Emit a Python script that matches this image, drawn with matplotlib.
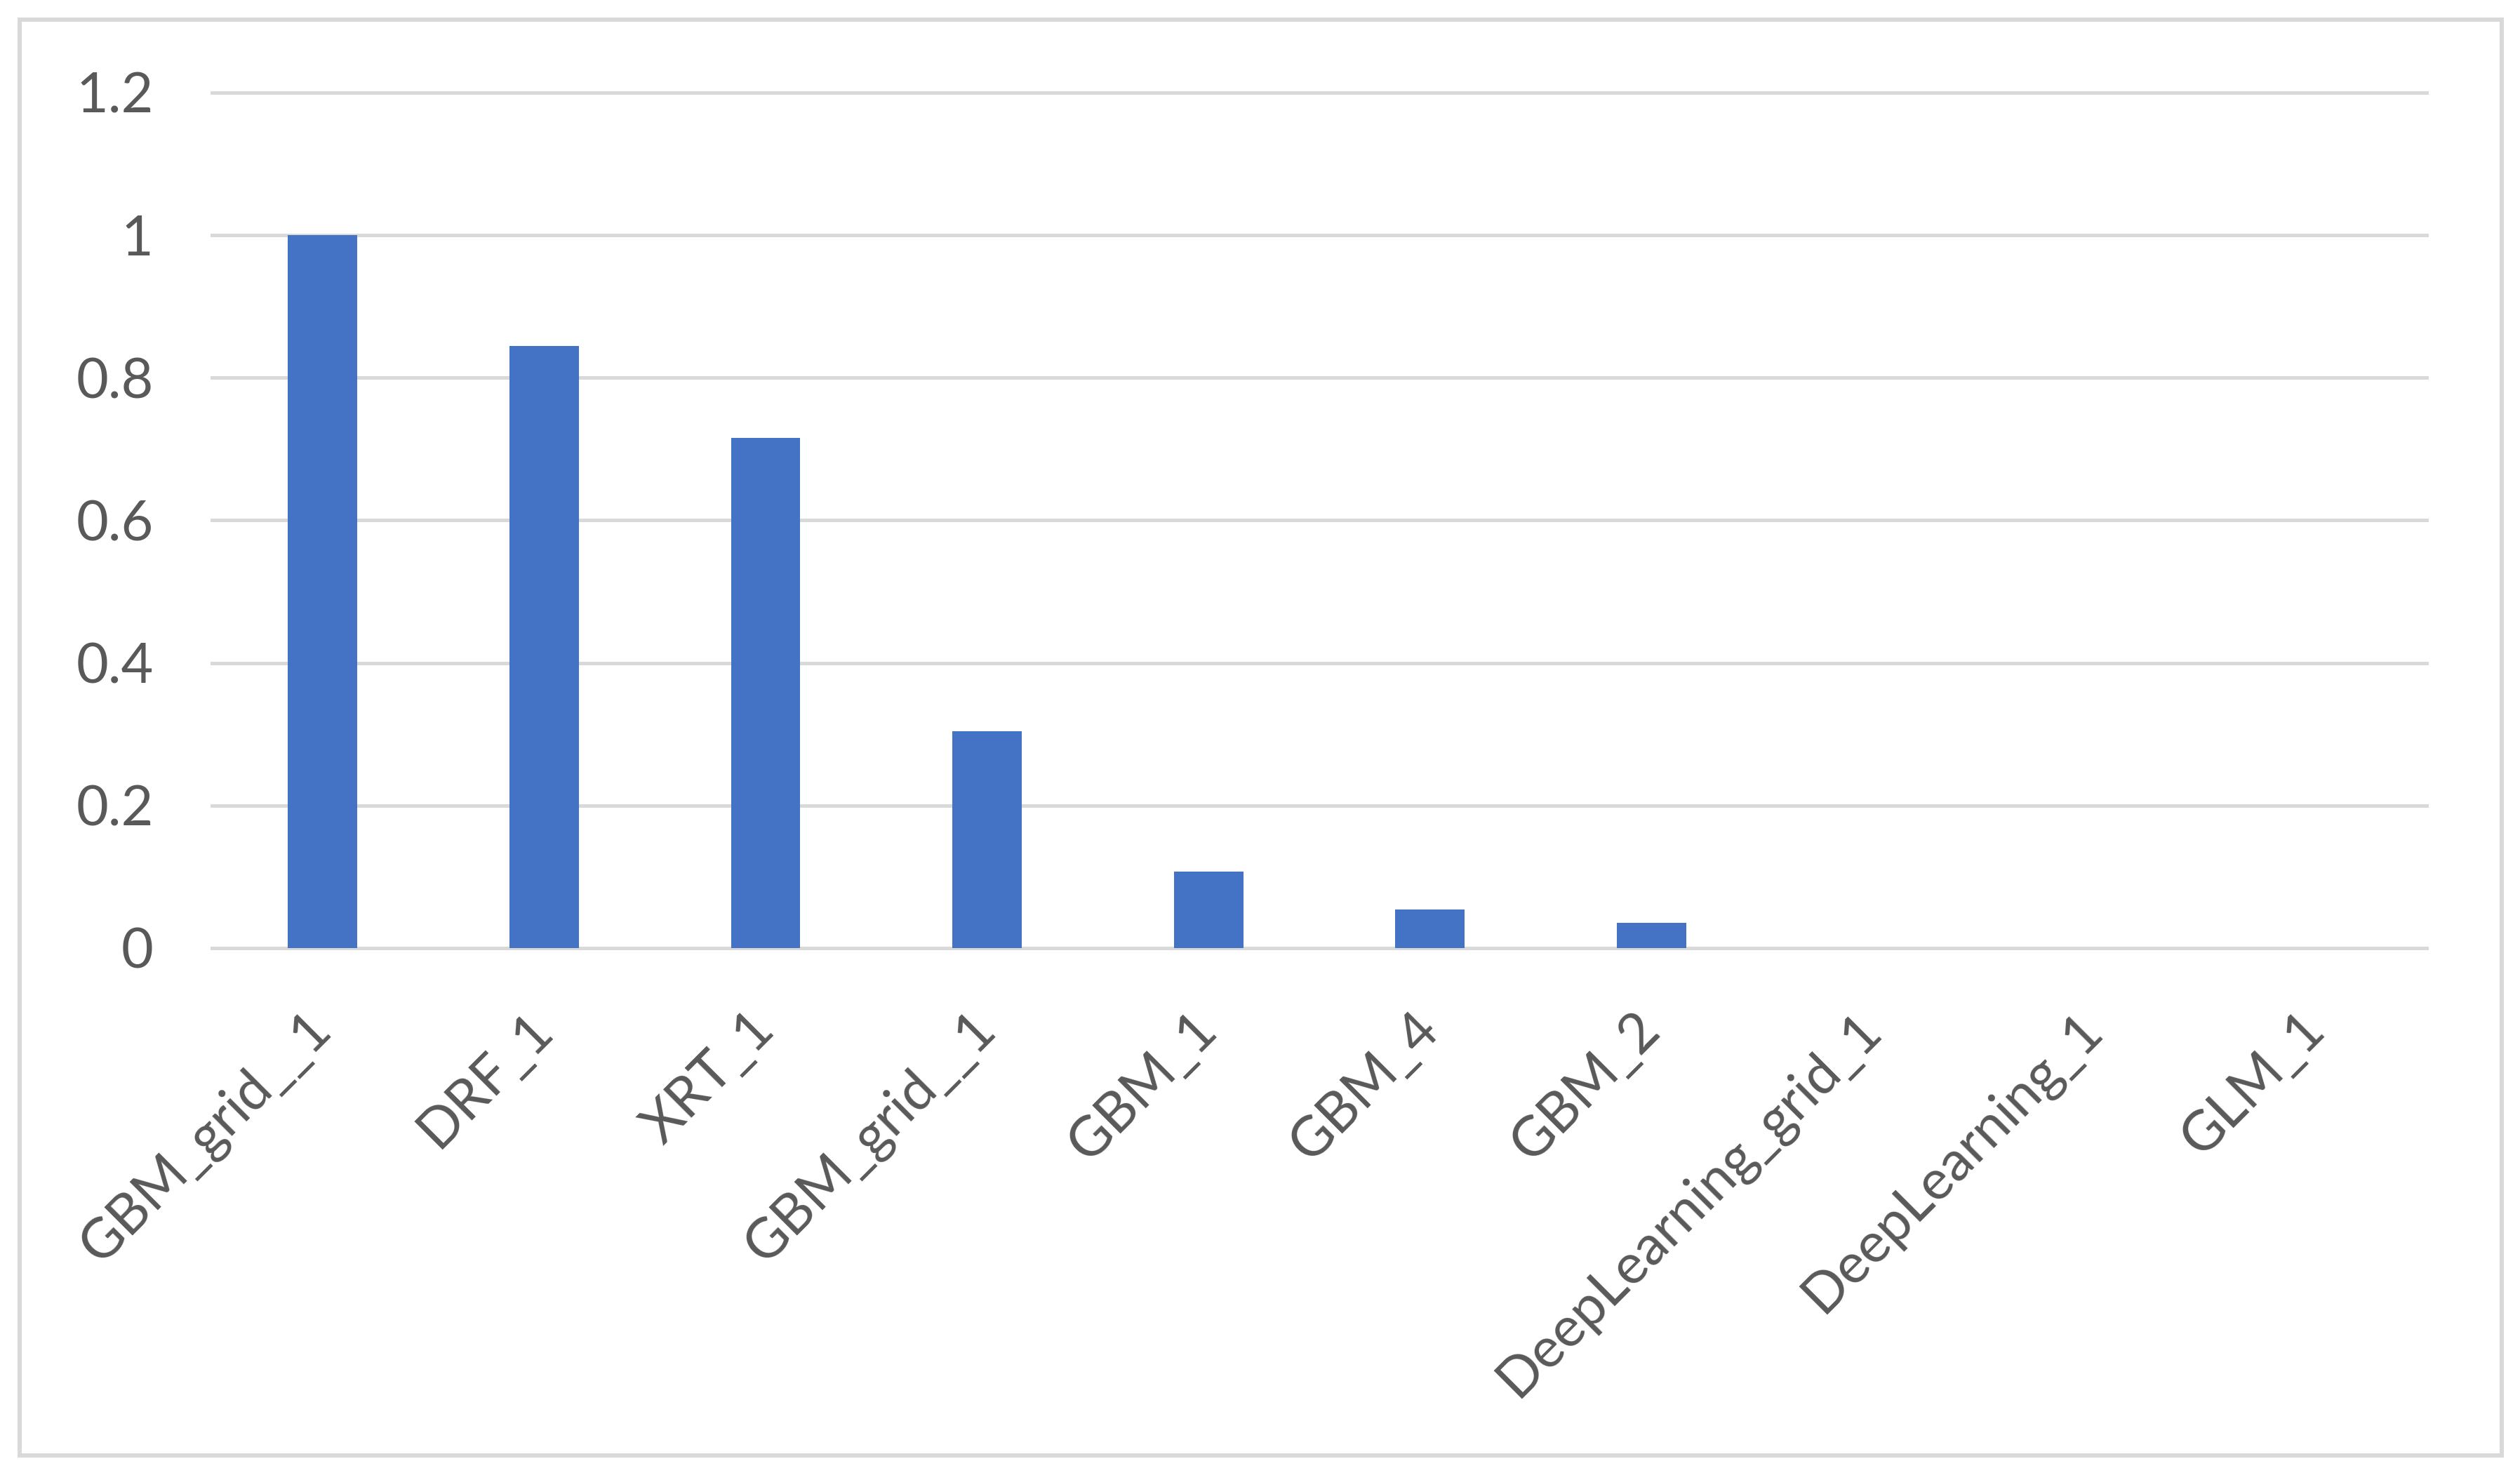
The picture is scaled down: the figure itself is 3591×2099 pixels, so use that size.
import matplotlib
matplotlib.use("Agg")
import matplotlib.pyplot as plt
import matplotlib.patches as patches

# data
models = ["GBM_grid__1", "DRF_1", "XRT_1", "GBM_grid__1", "GBM_1",
          "GBM_4", "GBM_2", "DeepLearning_grid_1", "DeepLearning_1", "GLM_1"]
importance = [1.0, 0.845, 0.716, 0.304, 0.107, 0.054, 0.035, 0.0, 0.0, 0.0]
y_ticks = [0, 0.2, 0.4, 0.6, 0.8, 1.0, 1.2]
y_tick_labels = ["0", "0.2", "0.4", "0.6", "0.8", "1", "1.2"]

plt.rcParams['font.family'] = ['Lato', 'DejaVu Sans']
text_color = '#595959'
grid_color = '#D9D9D9'

W, H, DPI = 3591, 2099, 300
fig = plt.figure(figsize=(W / DPI, H / DPI), dpi=DPI)
fig.patch.set_facecolor('white')

# chart area border (Excel style)
border = patches.Rectangle((28 / W, 25 / H), (3565 - 28) / W, (2074 - 28) / H,
                           transform=fig.transFigure, fill=False,
                           edgecolor=grid_color, linewidth=1.45)
fig.patches.append(border)

ax = fig.add_axes([302 / W, 748 / H, (3458 - 302) / W, (1351 - 132) / H])

x = list(range(len(models)))
ax.bar(x, importance, width=0.313, color='#4472C4', zorder=2)

ax.set_xlim(-0.5, len(models) - 0.5)
ax.set_ylim(0, 1.2)

ax.set_yticks(y_ticks)
ax.set_yticklabels(y_tick_labels, fontsize=19, color=text_color)
ax.set_xticks(x)
ax.set_xticklabels(models, fontsize=19, color=text_color, rotation=45,
                   ha='right', va='center', rotation_mode='anchor')

ax.tick_params(axis='both', length=0)
ax.tick_params(axis='x', pad=25)
ax.tick_params(axis='y', pad=20)

for s in ax.spines.values():
    s.set_visible(False)

ax.set_axisbelow(True)
ax.yaxis.grid(True, color=grid_color, linewidth=1.2)
for gl in ax.yaxis.get_gridlines():
    gl.set_clip_on(False)

fig.savefig("out.png", dpi=DPI)
